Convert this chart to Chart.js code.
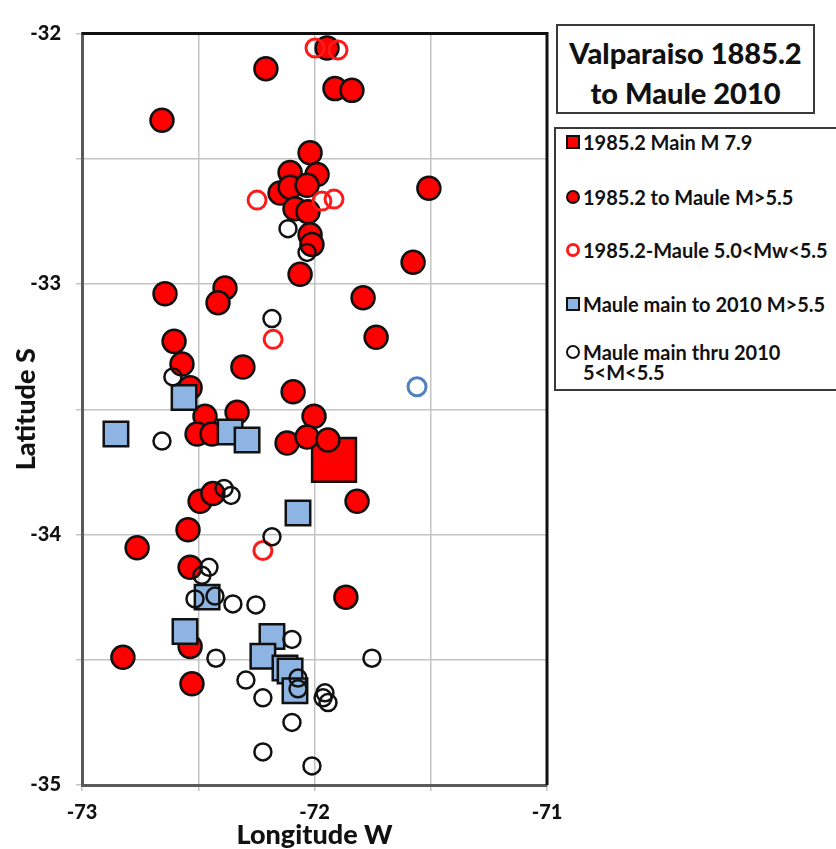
<!DOCTYPE html>
<html>
<head>
<meta charset="utf-8">
<title>Valparaiso 1885.2 to Maule 2010</title>
<script src="https://cdn.jsdelivr.net/npm/chart.js@4.4.0/dist/chart.umd.min.js"></script>
<style>
  body { margin: 0; background: #fff; font-family: Lato, "Open Sans", sans-serif; }
  #wrap { position: relative; width: 836px; height: 849px; overflow: hidden; }
  #titleBox {
    position: absolute; left: 556px; top: 24px; width: 259px; height: 90px;
    box-sizing: border-box; border: 2px solid #3a3a3a; background: #fff;
    text-align: center; font-weight: 900; font-size: 29px; line-height: 40px; padding-top: 7px; color: #111;
  }
  #legendBox {
    position: absolute; left: 554px; top: 127px; width: 300px; height: 264px;
    box-sizing: border-box; border: 2px solid #3a3a3a; background: #fff;
  }
  .row { position: absolute; left: 0; height: 22px; line-height: 22px; font-weight: bold; font-size: 20px; color: #111; white-space: nowrap; }
  .row span.txt { position: absolute; left: 27px; top: 0; }
  .mk { position: absolute; left: 10px; top: 4px; width: 14px; height: 14px; box-sizing: border-box; }
</style>
</head>
<body>
<div id="wrap">
  <canvas id="chart"></canvas>
  <div id="titleBox">Valparaiso 1885.2<br>to Maule 2010</div>
  <div id="legendBox">
    <div class="row" style="top:2px"><div class="mk" style="background:#ff0000;border:2px solid #111"></div><span class="txt">1985.2 Main M 7.9</span></div>
    <div class="row" style="top:57px"><div class="mk" style="background:#ff0000;border:2px solid #111;border-radius:50%"></div><span class="txt">1985.2 to Maule M&gt;5.5</span></div>
    <div class="row" style="top:110px"><div class="mk" style="background:#fff;border:3px solid #ff1a1a;border-radius:50%"></div><span class="txt">1985.2-Maule 5.0&lt;Mw&lt;5.5</span></div>
    <div class="row" style="top:164px"><div class="mk" style="background:#8db4e2;border:2px solid #111"></div><span class="txt">Maule main to 2010 M&gt;5.5</span></div>
    <div class="row" style="top:212px"><div class="mk" style="background:#fff;border:2.5px solid #111;border-radius:50%"></div><span class="txt">Maule main thru 2010</span></div>
    <div class="row" style="top:232px"><span class="txt">5&lt;M&lt;5.5</span></div>
  </div>
</div>
<script>
// [longitude, latitude] pairs
const mainShock = [[-71.916, -33.702]];

const bigQuakes = [
  [-72.209, -32.141], [-72.656, -32.346], [-71.946, -32.058], [-71.912, -32.220], [-71.839, -32.227],
  [-72.019, -32.476], [-72.105, -32.555], [-71.989, -32.563], [-72.148, -32.637], [-72.105, -32.614],
  [-72.032, -32.606], [-72.084, -32.700], [-72.028, -32.712], [-72.019, -32.803], [-72.011, -32.842],
  [-72.062, -32.961], [-72.643, -33.039], [-72.385, -33.016], [-72.415, -33.075], [-71.791, -33.055],
  [-71.735, -33.213], [-71.576, -32.913], [-71.508, -32.618], [-72.604, -33.229], [-72.570, -33.319],
  [-72.308, -33.331], [-72.535, -33.414], [-72.092, -33.430], [-72.471, -33.528], [-72.333, -33.512],
  [-72.505, -33.599], [-72.441, -33.599], [-72.002, -33.528], [-72.118, -33.635], [-72.032, -33.611],
  [-71.942, -33.623], [-72.492, -33.867], [-72.437, -33.836], [-71.817, -33.867], [-72.544, -33.981],
  [-72.763, -34.053], [-72.535, -34.131], [-71.865, -34.250], [-72.535, -34.447], [-72.824, -34.490],
  [-72.527, -34.596]
];

const smallQuakes = [
  [-71.998, -32.058], [-71.899, -32.066], [-72.247, -32.665], [-71.968, -32.669],
  [-71.916, -32.661], [-72.178, -33.221], [-72.222, -34.064]
];

const mauleBig = [
  [-72.561, -33.453], [-72.854, -33.599], [-72.363, -33.591], [-72.290, -33.623],
  [-72.071, -33.914], [-72.462, -34.250], [-72.557, -34.387], [-72.183, -34.407],
  [-72.222, -34.486], [-72.127, -34.533], [-72.105, -34.545], [-72.084, -34.624]
];

const mauleSmall = [
  [-72.114, -32.779], [-72.032, -32.874], [-72.183, -33.138], [-72.609, -33.371], [-72.656, -33.627],
  [-72.389, -33.816], [-72.359, -33.844], [-72.183, -34.009], [-72.454, -34.131], [-72.484, -34.163],
  [-72.514, -34.257], [-72.428, -34.246], [-72.351, -34.277], [-72.252, -34.281], [-72.424, -34.494],
  [-72.097, -34.419], [-72.071, -34.573], [-72.071, -34.616], [-72.295, -34.581], [-72.222, -34.652],
  [-71.955, -34.632], [-71.963, -34.652], [-71.942, -34.671], [-72.097, -34.750], [-72.222, -34.868],
  [-72.011, -34.924], [-71.753, -34.494]
];

const otherEvent = [[-71.559, -33.410]];

const lonTicks = [-73, -72, -71];
const latTicks = [-35, -34, -33, -32];

const pts = (arr) => arr.map(([x, y]) => ({ x, y }));

function series(label, arr, o) {
  return {
    label, data: pts(arr), clip: false,
    pointStyle: o.style || "circle",
    pointRadius: o.r, pointHoverRadius: o.r,
    pointBorderWidth: o.bw, pointHoverBorderWidth: o.bw,
    pointBackgroundColor: o.fill, pointBorderColor: o.line,
    pointHoverBackgroundColor: o.fill, pointHoverBorderColor: o.line,
    order: o.order,
  };
}

// plot frame: top and right edges are black, axes themselves are grey
const frame = {
  id: "frame",
  beforeDatasetsDraw(chart) {
    const { ctx, chartArea: a } = chart;
    ctx.save();
    ctx.strokeStyle = "#111";
    ctx.lineWidth = 3;
    ctx.beginPath();
    ctx.moveTo(a.left, a.top);
    ctx.lineTo(a.right, a.top);
    ctx.lineTo(a.right, a.bottom);
    ctx.stroke();
    ctx.restore();
  },
};

// integer tick labels, placed with the scales' own value->pixel mapping
const tickText = {
  id: "tickText",
  afterDraw(chart) {
    const { ctx, chartArea: a } = chart;
    const { x, y } = chart.scales;
    ctx.save();
    ctx.font = "900 20px Lato, 'Open Sans', sans-serif";
    ctx.fillStyle = "#111";
    ctx.textBaseline = "middle";
    ctx.textAlign = "right";
    latTicks.forEach((v) => ctx.fillText(String(v), a.left - 21, y.getPixelForValue(v)));
    ctx.textAlign = "center";
    lonTicks.forEach((v) => ctx.fillText(String(v), x.getPixelForValue(v), a.bottom + 28));
    ctx.restore();
  },
};

Chart.defaults.font.family = "Lato, 'Open Sans', sans-serif";
Chart.defaults.color = "#111";

const titleFont = { size: 27, weight: "900", lineHeight: 1 };
const noLabel = () => "";

new Chart(document.getElementById("chart"), {
  type: "scatter",
  data: {
    datasets: [
      series("Maule main thru 2010 5<M<5.5", mauleSmall, { r: 8.5, bw: 2.5, fill: "rgba(255,255,255,0)", line: "#111", order: 0 }),
      series("other", otherEvent, { r: 9, bw: 3, fill: "#fff", line: "#4f81bd", order: 1 }),
      series("Maule main to 2010 M>5.5", mauleBig, { style: "rect", r: 17.3, bw: 2.5, fill: "#8db4e2", line: "#111", order: 2 }),
      series("1985.2-Maule 5.0<Mw<5.5", smallQuakes, { r: 9, bw: 3, fill: "rgba(255,255,255,0)", line: "#ff1a1a", order: 3 }),
      series("1985.2 to Maule M>5.5", bigQuakes, { r: 11.5, bw: 2.5, fill: "#ff0000", line: "#111", order: 4 }),
      series("1985.2 Main M 7.9", mainShock, { style: "rect", r: 31, bw: 2.5, fill: "#ff0000", line: "#111", order: 5 }),
    ],
  },
  options: {
    responsive: true,
    maintainAspectRatio: false,
    animation: false,
    events: [],
    layout: { padding: { top: 24, right: 289, left: 0, bottom: 0 } },
    plugins: { legend: { display: false }, tooltip: { enabled: false } },
    scales: {
      x: {
        type: "linear", min: -73, max: -71,
        afterFit: (s) => { s.height = 64; },
        grid: { color: "#c4c4c4", lineWidth: 1.5, tickLength: 6 },
        border: { color: "#5a5a5a", width: 3 },
        ticks: { stepSize: 0.5, autoSkip: false, maxRotation: 0, callback: noLabel },
        title: { display: true, text: "Longitude W", color: "#111", font: titleFont, padding: { top: 0, bottom: 0 } },
      },
      y: {
        type: "linear", min: -35, max: -32,
        afterFit: (s) => { s.width = 82; },
        grid: { color: "#c4c4c4", lineWidth: 1.5, tickLength: 6 },
        border: { color: "#5a5a5a", width: 3 },
        ticks: { stepSize: 0.5, autoSkip: false, callback: noLabel },
        title: { display: true, text: "Latitude S", color: "#111", font: titleFont, padding: { top: 13, bottom: 0 } },
      },
    },
  },
  plugins: [frame, tickText],
});
</script>
</body>
</html>
